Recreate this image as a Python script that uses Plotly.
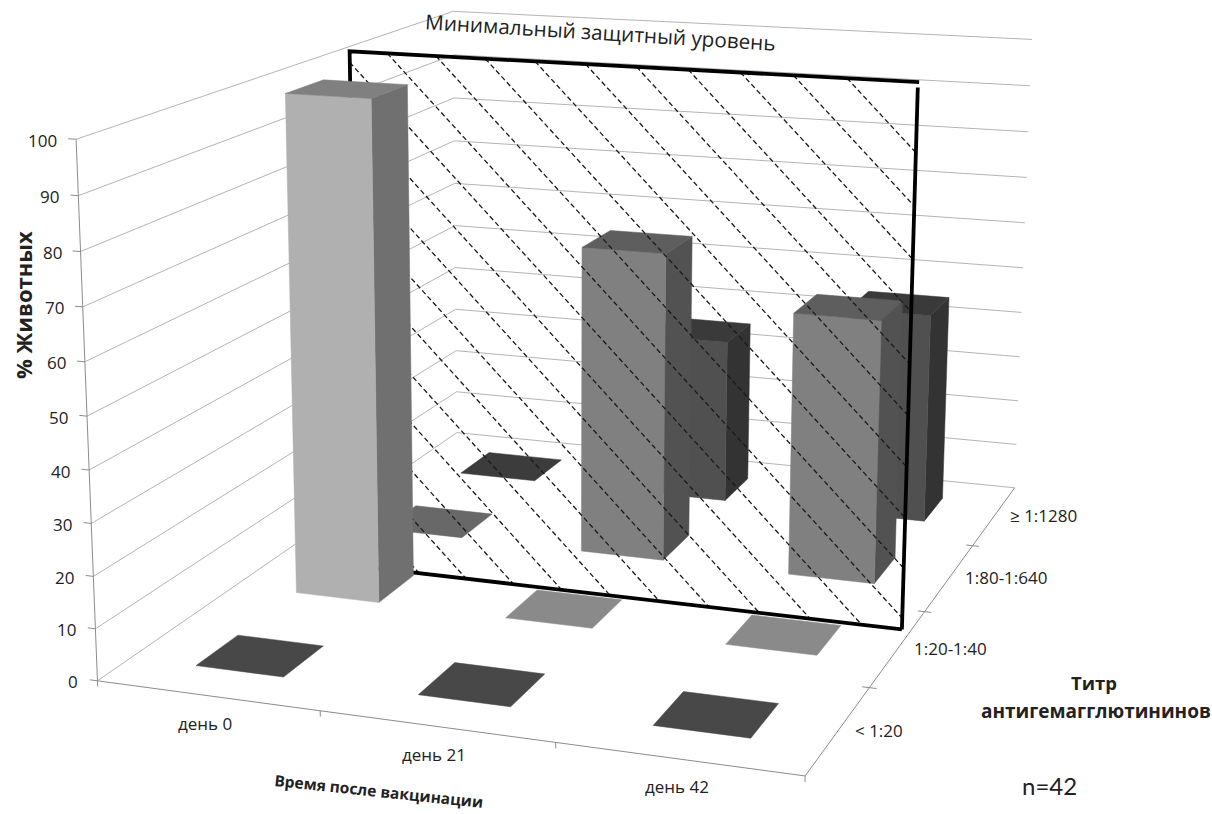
import numpy as np
import plotly.graph_objects as go

# Chart data: percentage of animals per titer group at each time point
days = ["день 0", "день 21", "день 42"]
titers = ["< 1:20", "1:20-1:40", "1:80-1:640", "≥ 1:1280"]
pct_lt20 = [0, 0, 0]
pct_20_40 = [100, 0, 0]
pct_80_640 = [0, 64.3, 54.2]
pct_ge1280 = [0, 35.7, 45.2]
z_ticks = list(range(0, 101, 10))

W, H = 1212, 814
FONT = "'Open Sans', sans-serif"
INK = "#222222"

# Face colours of each titer group: front, right side, top, flat (zero height) square
group_colors = [
    ("#484848", "#484848", "#484848", "#484848"),
    ("#b0b0b0", "#707070", "#808080", "#8a8a8a"),
    ("#808080", "#525252", "#5e5e5e", "#686868"),
    ("#505050", "#333333", "#3a3a3a", "#3c3c3c"),
]
group_values = [pct_lt20, pct_20_40, pct_80_640, pct_ge1280]

# Perspective of the 3-D box: where its reference points land on the page
# (day axis position, titer axis position, percent, page x, page y)
box_points = [
    (0, 0, 0, 98, 680), (0, 0, 50, 88, 416), (0, 0, 100, 76, 140),
    (0, 4, 0, 457, 433), (0, 4, 50, 455, 226), (0, 4, 100, 453, 10),
    (3, 4, 0, 1012, 488), (3, 4, 50, 1023, 268), (3, 4, 100, 1032, 40),
    (1, 0, 0, 319, 712), (2, 0, 0, 554, 743), (3, 0, 0, 804, 776),
    (3, 1, 0, 870, 686), (3, 2, 0, 927, 611), (3, 3, 0, 975, 546),
]


def solve_projection(points):
    rows, rhs = [], []
    for x, y, z, u, v in points:
        x, y, z = x / 3, y / 4, z / 100
        rows.append([x, y, z, 1, 0, 0, 0, 0, -u * x, -u * y, -u * z])
        rhs.append(u)
        rows.append([0, 0, 0, 0, x, y, z, 1, -v * x, -v * y, -v * z])
        rhs.append(v)
    sol = np.linalg.lstsq(np.array(rows, float), np.array(rhs, float), rcond=None)[0]
    return np.append(sol, 1).reshape(3, 4)


CAMERA = solve_projection(box_points)


def project(x, y, z):
    q = CAMERA @ np.array([x / 3, y / 4, z / 100, 1.0])
    return q[0] / q[2], q[1] / q[2]


fig = go.Figure()


def polygon(corners, color):
    pts = [project(*c) for c in corners]
    fig.add_trace(go.Scatter(
        x=[p[0] for p in pts] + [pts[0][0]], y=[p[1] for p in pts] + [pts[0][1]],
        mode="lines", fill="toself", fillcolor=color,
        line=dict(color=color, width=0.5), hoverinfo="skip"))


def polyline(points, color, width, dash="solid"):
    xs, ys = [], []
    for p in points:
        if p is None:
            xs.append(None)
            ys.append(None)
        else:
            u, v = project(*p)
            xs.append(u)
            ys.append(v)
    fig.add_trace(go.Scatter(x=xs, y=ys, mode="lines", hoverinfo="skip",
                             line=dict(color=color, width=width, dash=dash)))


BAR_LOW, BAR_HIGH = 0.3, 0.7


def draw_bar(day_i, group_i):
    value = group_values[group_i][day_i]
    front, side, top, flat = group_colors[group_i]
    x0, x1 = day_i + BAR_LOW, day_i + BAR_HIGH
    y0, y1 = group_i + BAR_LOW, group_i + BAR_HIGH
    if value > 0:
        polygon([(x1, y0, 0), (x1, y1, 0), (x1, y1, value), (x1, y0, value)], side)
        polygon([(x0, y0, 0), (x1, y0, 0), (x1, y0, value), (x0, y0, value)], front)
    polygon([(x0, y0, value), (x1, y0, value), (x1, y1, value), (x0, y1, value)],
            top if value > 0 else flat)


# Wall gridlines: along the left wall, then across the back wall
grid = []
for z in z_ticks:
    grid += [(0, 0, z), (0, 4, z), (3, 4, z), None]
polyline(grid, "#b4b4b4", 1)

# Axis lines and tick marks
axis_color = "#8c8c8c"
polyline([(0, 0, 0), (0, 0, 100)], axis_color, 1)
polyline([(0, 0, 0), (3, 0, 0), (3, 4, 0)], axis_color, 1)
ticks = []
for z in z_ticks:
    ticks += [(-0.035, 0, z), (0, 0, z), None]
for x in range(4):
    ticks += [(x, 0, 0), (x, 0, -1.1), None]
for y in range(1, 4):
    ticks += [(3 - 0.03, y, 0), (3 + 0.03, y, 0), None]
polyline(ticks, axis_color, 1)

# Bars behind the protection-level plane, back to front
for group_i in (3, 2):
    for day_i in range(len(days)):
        draw_bar(day_i, group_i)
for day_i in range(len(days)):
    if pct_20_40[day_i] == 0:
        draw_bar(day_i, 1)

# Protection-level plane: a hatched upright rectangle between the titer groups
PLANE_Y = 1.74
PLANE_X0, PLANE_X1 = 0.41, 2.96
PLANE_TOP = 105.6
HATCH_DROP = 43.6
hatch = []
start = 2.66
while start > -2.2:
    xa, za = start, PLANE_TOP
    if xa < PLANE_X0:
        za = PLANE_TOP - HATCH_DROP * (PLANE_X0 - start)
        xa = PLANE_X0
    zb = PLANE_TOP - HATCH_DROP * (PLANE_X1 - start)
    xb = PLANE_X1
    if zb < 0:
        xb = start + PLANE_TOP / HATCH_DROP
        zb = 0
    if za > 0:
        hatch += [(xa, PLANE_Y, za), (xb, PLANE_Y, zb), None]
    start -= 0.23
polyline(hatch, "#1a1a1a", 1.3, "5px,3px")
polyline([(PLANE_X0, PLANE_Y, 0), (PLANE_X1, PLANE_Y, 0), None,
          (PLANE_X1, PLANE_Y, 0), (PLANE_X1, PLANE_Y, PLANE_TOP - 1), None,
          (PLANE_X1 + 0.005, PLANE_Y, PLANE_TOP), (PLANE_X0, PLANE_Y, PLANE_TOP),
          (PLANE_X0, PLANE_Y, 0)], "#000000", 3.8)

# Bars in front of the plane
for day_i in range(len(days)):
    if pct_20_40[day_i] > 0:
        draw_bar(day_i, 1)
for day_i in range(len(days)):
    draw_bar(day_i, 0)


def label(u, v, text, size, anchor="center", bold=False, angle=0, family=FONT):
    fig.add_annotation(x=u, y=v, text=f"<b>{text}</b>" if bold else text, textangle=angle,
                       showarrow=False, xanchor=anchor, yanchor="middle", borderpad=0,
                       font=dict(family=family, size=size, color=INK))


for z in z_ticks:
    u, v = project(0, 0, z)
    label(u - 18, v + 1, str(z), 17, "right")
for i, day in enumerate(days):
    u, v = project(i + 0.5, 0, 0)
    label(u - 2, v + 28, day, 17)
for i, titer in enumerate(titers):
    u, v = project(3, i + 0.5, 0)
    label(u + 15, v, titer, 17, "left")

label(23, 305, "% Животных", 22, bold=True, angle=-90)
label(379, 791, "Время после вакцинации", 15.5, bold=True, angle=6)
label(1094, 682, "Титр", 18.5, bold=True)
label(1096, 711, "антигемагглютининов", 19, bold=True)
label(1049, 785, "n=42", 24, family="Lato, sans-serif")
label(600, 32, "Минимальный защитный уровень", 20.7, angle=3.5)

fig.update_layout(
    width=W, height=H, margin=dict(l=0, r=0, t=0, b=0), showlegend=False,
    paper_bgcolor="white", plot_bgcolor="white",
    xaxis=dict(range=[0, W], visible=False, fixedrange=True),
    yaxis=dict(range=[H, 0], visible=False, fixedrange=True),
)
fig.write_html("out.html")
